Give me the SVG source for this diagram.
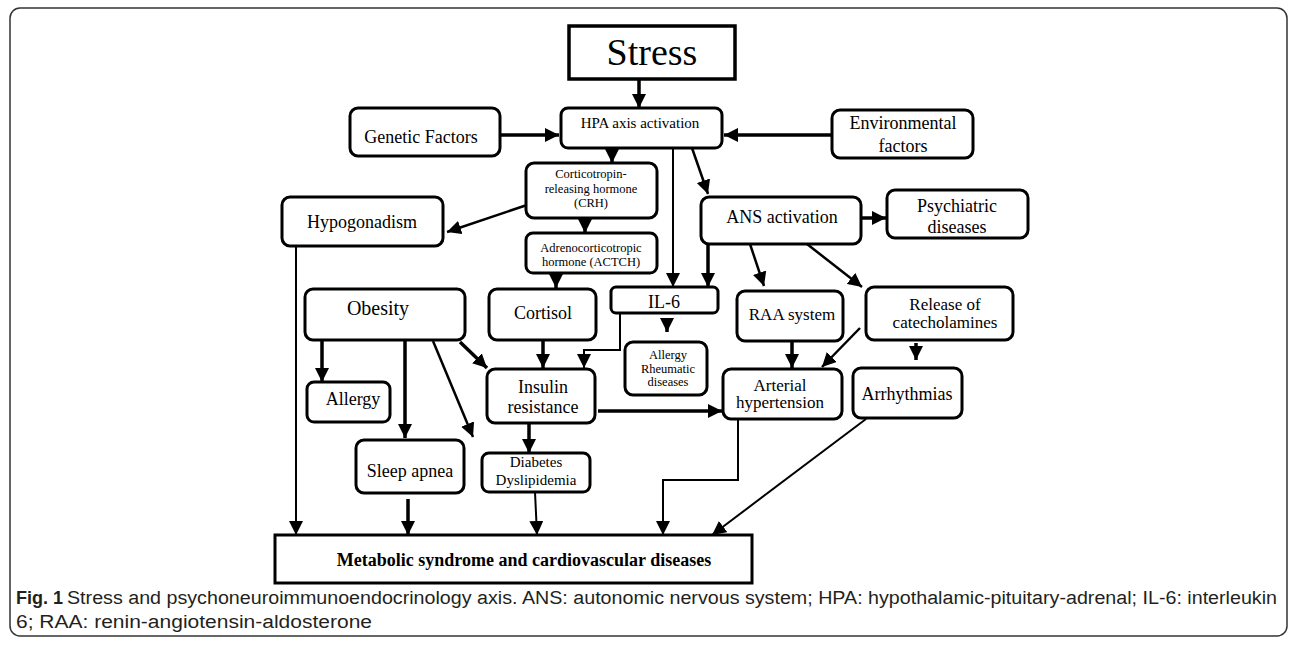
<svg xmlns="http://www.w3.org/2000/svg" width="1290" height="645" viewBox="0 0 1290 645">
<defs>
<marker id="ah" viewBox="0 0 14 14" refX="14" refY="7" markerWidth="14" markerHeight="14" markerUnits="userSpaceOnUse" orient="auto"><path d="M0,0 L14,7 L0,14 Z" fill="#000"/></marker>
<style>
.box{fill:#fff;stroke:#000;stroke-width:3}
.t{font-family:"Liberation Serif","Times New Roman",serif;fill:#000;text-anchor:middle}
.k{fill:none;stroke:#000;stroke-width:3.5;marker-end:url(#ah)}
.n{fill:none;stroke:#000;stroke-width:2;marker-end:url(#ah)}
.cap{font-family:"Liberation Sans",Arial,sans-serif;fill:#231f20;font-size:18px}
</style>
</defs>
<rect x="10" y="8" width="1277" height="628" rx="10" fill="#fff" stroke="#333" stroke-width="1.5"/>

<g id="connectors">
<path class="k" d="M639,79 L639,108"/>
<path class="k" d="M500,135 L559,135"/>
<path class="k" d="M832,135 L724,135"/>
<path class="k" d="M612,149 L612,163"/>
<path class="n" d="M673,148 L673,287"/>
<path class="n" style="stroke-width:2.5" d="M692,148 L708,194"/>
<path class="n" style="stroke-width:2.5" d="M527,205 L447,232"/>
<path class="k" d="M585,219 L585,233"/>
<path class="k" d="M556,274 L556,288"/>
<path class="k" d="M862,218 L886,218"/>
<path class="k" d="M708,244 L708,287"/>
<path class="n" style="stroke-width:2.5" d="M750,244 L764,286"/>
<path class="n" style="stroke-width:2.5" d="M807,244 L862,287"/>
<path class="k" d="M667,318 L667,332"/>
<path class="n" d="M620,313 L620,350 L584,350 L584,368"/>
<path class="k" d="M322,341 L322,382"/>
<path class="k" d="M405,341 L405,438"/>
<path class="n" style="stroke-width:2.5" d="M433,341 L473,437"/>
<path class="k" d="M460,342 L487,368"/>
<path class="k" d="M543,341 L543,368"/>
<path class="k" d="M529,424 L529,453"/>
<path class="k" d="M598,411 L722,411"/>
<path class="k" d="M792,342 L792,368"/>
<path class="n" style="stroke-width:2.5" d="M860,328 L822,367"/>
<path class="k" d="M916,343 L916,360"/>
<path class="n" d="M296,246 L296,535"/>
<path class="k" d="M408,499 L408,535"/>
<path class="n" d="M535,492 L537,535"/>
<path class="n" d="M738,420 L738,480 L663,480 L663,535"/>
<path class="n" d="M866,419 L712,535"/>
</g>

<g id="stress"><rect x="569" y="26" width="166" height="53" fill="#fff" stroke="#000" stroke-width="3.5"/><text class="t" x="652" y="65" font-size="38">Stress</text></g>
<g id="hpa"><rect class="box" x="561" y="108" width="161" height="40" rx="7"/><text class="t" x="640" y="128" font-size="15">HPA axis activation</text></g>
<g id="genetic"><rect class="box" x="350" y="108" width="150" height="48" rx="8"/><text class="t" x="421" y="143" font-size="18">Genetic Factors</text></g>
<g id="environmental"><rect class="box" x="832" y="110" width="141" height="48" rx="8"/><text class="t" x="903" y="129" font-size="18">Environmental</text><text class="t" x="903" y="152" font-size="18">factors</text></g>
<g id="crh"><rect class="box" x="526" y="163" width="131" height="55" rx="8"/><text class="t" x="591" y="178" font-size="12.5">Corticotropin-</text><text class="t" x="591" y="193" font-size="12.5">releasing hormone</text><text class="t" x="591" y="207" font-size="12.5">(CRH)</text></g>
<g id="hypogonadism"><rect class="box" x="282" y="197" width="161" height="49" rx="8"/><text class="t" x="362" y="228" font-size="18">Hypogonadism</text></g>
<g id="ans"><rect class="box" x="701" y="197" width="160" height="47" rx="8"/><text class="t" x="782" y="223" font-size="18">ANS activation</text></g>
<g id="psychiatric"><rect class="box" x="887" y="190" width="141" height="48" rx="8"/><text class="t" x="957" y="212" font-size="18">Psychiatric</text><text class="t" x="957" y="233" font-size="18">diseases</text></g>
<g id="actch"><rect class="box" x="526" y="233" width="131" height="40" rx="7"/><text class="t" x="591" y="252" font-size="12.5">Adrenocorticotropic</text><text class="t" x="591" y="266" font-size="12.5">hormone (ACTCH)</text></g>
<g id="obesity"><rect class="box" x="305" y="289" width="160" height="51" rx="8"/><text class="t" x="378" y="315" font-size="20">Obesity</text></g>
<g id="cortisol"><rect class="box" x="489" y="289" width="107" height="51" rx="8"/><text class="t" x="543" y="319" font-size="18">Cortisol</text></g>
<g id="il6"><rect class="box" x="611" y="287" width="107" height="26" rx="5"/><text class="t" x="664" y="308" font-size="18">IL-6</text></g>
<g id="raa"><rect class="box" x="737" y="291" width="106" height="50" rx="8"/><text class="t" x="792" y="320" font-size="17">RAA system</text></g>
<g id="catecholamines"><rect class="box" x="866" y="287" width="147" height="53" rx="8"/><text class="t" x="945" y="310" font-size="17">Release of</text><text class="t" x="945" y="328" font-size="17">catecholamines</text></g>
<g id="allergy-rheumatic"><rect class="box" x="625" y="342" width="82" height="53" rx="8"/><text class="t" x="668" y="359" font-size="12.5">Allergy</text><text class="t" x="668" y="373" font-size="12.5">Rheumatic</text><text class="t" x="668" y="386" font-size="12.5">diseases</text></g>
<g id="allergy"><rect class="box" x="307" y="382" width="83" height="40" rx="7"/><text class="t" x="353" y="405" font-size="18">Allergy</text></g>
<g id="insulin"><rect class="box" x="487" y="369" width="108" height="54" rx="8"/><text class="t" x="543" y="393" font-size="18">Insulin</text><text class="t" x="543" y="413" font-size="18">resistance</text></g>
<g id="arterial"><rect class="box" x="723" y="369" width="119" height="50" rx="8"/><text class="t" x="780" y="391" font-size="17">Arterial</text><text class="t" x="780" y="408" font-size="17">hypertension</text></g>
<g id="arrhythmias"><rect class="box" x="853" y="368" width="109" height="50" rx="8"/><text class="t" x="907" y="400" font-size="18">Arrhythmias</text></g>
<g id="sleep-apnea"><rect class="box" x="356" y="440" width="108" height="53" rx="8"/><text class="t" x="410" y="477" font-size="18">Sleep apnea</text></g>
<g id="diabetes"><rect class="box" x="482" y="453" width="108" height="39" rx="7"/><text class="t" x="536" y="467" font-size="15">Diabetes</text><text class="t" x="536" y="485" font-size="15">Dyslipidemia</text></g>
<g id="metabolic"><rect x="275" y="535" width="477" height="48" fill="#fff" stroke="#000" stroke-width="3"/><text class="t" x="524" y="566" font-size="18" font-weight="bold">Metabolic syndrome and cardiovascular diseases</text></g>

<g id="caption">
<text class="cap" x="16" y="604" font-weight="bold">Fig. 1</text>
<text class="cap" x="67" y="604" textLength="1210" lengthAdjust="spacingAndGlyphs">Stress and psychoneuroimmunoendocrinology axis. ANS: autonomic nervous system; HPA: hypothalamic-pituitary-adrenal; IL-6: interleukin</text>
<text class="cap" x="16" y="628" textLength="356" lengthAdjust="spacingAndGlyphs">6; RAA: renin-angiotensin-aldosterone</text>
</g>
</svg>
